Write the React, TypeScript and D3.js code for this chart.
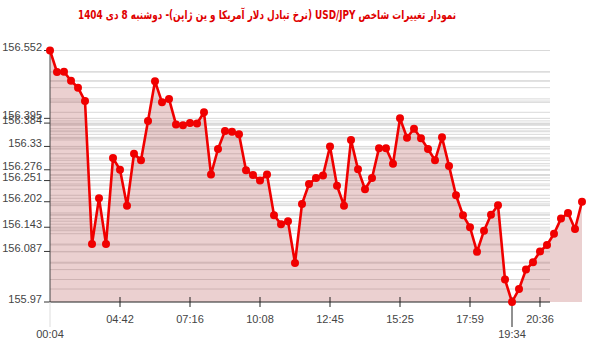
import React from 'react';
import * as d3 from 'd3';

const title = 'نمودار تغییرات شاخص USD/JPY (نرخ تبادل دلار آمریکا و ین ژاپن)-  دوشنبه  8 دی 1404';

const values: number[] = [
  156.552, 156.502, 156.503, 156.482, 156.466, 156.435, 156.104, 156.21, 156.104, 156.303,
  156.276, 156.193, 156.313, 156.298, 156.389, 156.481, 156.432, 156.44, 156.381, 156.379,
  156.384, 156.383, 156.409, 156.265, 156.324, 156.366, 156.364, 156.358, 156.275, 156.264,
  156.251, 156.265, 156.171, 156.15, 156.157, 156.06, 156.197, 156.243, 156.257, 156.263,
  156.33, 156.239, 156.193, 156.345, 156.277, 156.231, 156.257, 156.326, 156.326, 156.29,
  156.395, 156.35, 156.371, 156.349, 156.324, 156.298, 156.351, 156.285, 156.217, 156.171,
  156.143, 156.086, 156.135, 156.172, 156.194, 156.022, 155.97, 156.0, 156.045, 156.062,
  156.087, 156.102, 156.128, 156.163, 156.176, 156.139, 156.202,
];

const yTickValues = [155.97, 156.087, 156.143, 156.202, 156.251, 156.276, 156.33, 156.384, 156.395, 156.552];

const xTickIndex = [10, 20, 30, 40, 50, 60, 70];
const xTickLabels = ['04:42', '07:16', '10:08', '12:45', '15:25', '17:59', '20:36'];
const xLowIndex = [0, 66];
const xLowLabels = ['00:04', '19:34'];

export default function App() {
  const left = 50;
  const plotRight = 550;
  const top = 50.5;
  const bottom = 302;

  const x = d3.scaleLinear().domain([0, values.length - 1]).range([left, 582]);
  const y = d3.scaleLinear().domain([155.97, 156.552]).range([bottom, top]);

  const line = d3.line<number>().x((_, i) => x(i)).y((d) => y(d));
  const area = d3.area<number>().x((_, i) => x(i)).y0(bottom).y1((d) => y(d));

  const gridVals = Array.from(new Set(values));
  const font = "Arial, 'Liberation Sans', sans-serif";

  return (
    <svg width={600} height={352} style={{ position: 'absolute', left: 0, top: 0, background: '#fff' }}>
      <text x={267} y={19} textAnchor="middle" direction="rtl" fill="#e00000"
        textLength={378} lengthAdjust="spacingAndGlyphs"
        style={{ fontFamily: "Tahoma, 'DejaVu Sans', sans-serif", fontSize: 12, fontWeight: 'bold' }}>
        {title}
      </text>
      {gridVals.map((v, i) => (
        <line key={'g' + i} x1={left} x2={plotRight} y1={y(v)} y2={y(v)} stroke="#d9d9d9" strokeWidth={1} />
      ))}
      <path d={area(values) || ''} fill="rgba(170,60,60,0.24)" />
      {/* y axis */}
      <line x1={left} x2={left} y1={top} y2={bottom} stroke="#444" strokeWidth={1} />
      {yTickValues.map((v, i) => (
        <g key={'yt' + i}>
          <line x1={left - 6} x2={left} y1={y(v)} y2={y(v)} stroke="#333" strokeWidth={1} />
          <text x={42} y={y(v) + 0.5} textAnchor="end" fill="#444" style={{ fontFamily: font, fontSize: 11 }}>
            {String(v)}
          </text>
        </g>
      ))}
      {/* x axis */}
      <line x1={left} x2={plotRight} y1={bottom} y2={bottom} stroke="#333" strokeWidth={1} />
      {xTickIndex.map((idx, i) => (
        <g key={'xt' + i}>
          <line x1={x(idx)} x2={x(idx)} y1={bottom - 5} y2={bottom + 5} stroke="#222" strokeWidth={1} />
          <text x={x(idx)} y={322.5} textAnchor="middle" fill="#444" style={{ fontFamily: font, fontSize: 11 }}>
            {xTickLabels[i]}
          </text>
        </g>
      ))}
      {xLowIndex.map((idx, i) => (
        <g key={'xl' + i}>
          <line x1={x(idx)} x2={x(idx)} y1={i === 0 ? bottom : bottom - 5} y2={327}
            stroke={i === 0 ? '#ddd' : '#222'} strokeWidth={1} />
          <text x={x(idx)} y={338} textAnchor="middle" fill="#444" style={{ fontFamily: font, fontSize: 11 }}>
            {xLowLabels[i]}
          </text>
        </g>
      ))}
      <path d={line(values) || ''} fill="none" stroke="#f00000" strokeWidth={2.6} strokeLinejoin="round" />
      {values.map((v, i) => (
        <circle key={'p' + i} cx={x(i)} cy={y(v)} r={4} fill="#f00000" />
      ))}
    </svg>
  );
}
